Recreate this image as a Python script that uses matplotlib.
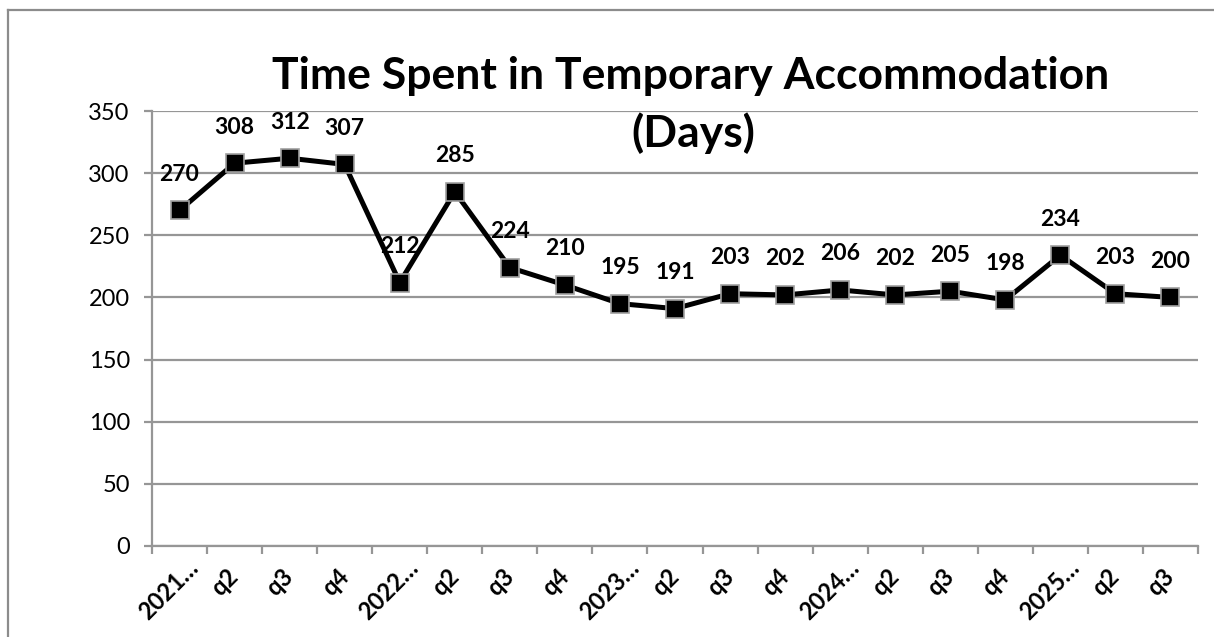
import matplotlib
matplotlib.use("Agg")
import matplotlib.pyplot as plt
from matplotlib.lines import Line2D
import matplotlib.transforms as mtransforms

categories = ["2021…", "q2", "q3", "q4", "2022…", "q2", "q3", "q4", "2023…", "q2",
              "q3", "q4", "2024…", "q2", "q3", "q4", "2025…", "q2", "q3"]
values = [270, 308, 312, 307, 212, 285, 224, 210, 195, 191,
          203, 202, 206, 202, 205, 198, 234, 203, 200]
y_ticks = [0, 50, 100, 150, 200, 250, 300, 350]
title_line1 = "Time Spent in Temporary Accommodation"
title_line2 = "(Days)"

plt.rcParams['font.family'] = ['Lato', 'DejaVu Sans']

W, H = 1214, 637
fig = plt.figure(figsize=(W / 100, H / 100), dpi=100)
ax = fig.add_axes([152 / W, 1 - 546 / H, (1198 - 152) / W, (546 - 111) / H])

grid_c = "#969696"
x = list(range(len(categories)))
ax.plot(x, values, color="black", lw=3.6, marker="s", markersize=13,
        markerfacecolor="black", markeredgecolor="#a0a0a0", markeredgewidth=1.2,
        zorder=3, clip_on=False)

for xi, v in zip(x, values):
    ax.annotate(str(v), (xi, v), xytext=(0, 26), textcoords="offset points",
                ha="center", va="center", fontsize=16.5, fontweight="bold", zorder=4)

ax.set_xlim(-0.5, len(categories) - 0.5)
ax.set_ylim(0, 350)
ax.set_yticks(y_ticks)
ax.set_yticklabels([str(t) for t in y_ticks], fontsize=17)
ax.yaxis.grid(True, color=grid_c, lw=1.6)
ax.set_axisbelow(True)

# category labels (rotated), placed at category centres
ax.set_xticks(x)
ax.set_xticklabels([])
ax.tick_params(axis="x", which="major", length=0)
base = ax.get_xaxis_transform()
for xi, cat in zip(x, categories):
    if cat.endswith("…"):
        dx, dy = 15, -18
    else:
        dx, dy = 0, -27
    off = mtransforms.ScaledTranslation(dx / 100, dy / 100, fig.dpi_scale_trans)
    ax.text(xi, 0, cat, transform=base + off, rotation=45, ha="right", va="center",
            rotation_mode="anchor", fontsize=17, fontweight="bold", clip_on=False)

ax.set_xticks([i - 0.5 for i in range(len(categories) + 1)], minor=True)
ax.tick_params(axis="x", which="minor", length=6, width=1.6, color=grid_c, direction="out")
ax.tick_params(axis="y", length=6, width=1.6, color=grid_c, direction="out", pad=10)

for s in ["top", "right"]:
    ax.spines[s].set_visible(False)
ax.spines["left"].set_color(grid_c)
ax.spines["left"].set_linewidth(1.6)
ax.spines["bottom"].set_color(grid_c)
ax.spines["bottom"].set_linewidth(1.6)

fig.text(691 / W, 1 - 76 / H, title_line1, ha="center", va="center",
         fontsize=32, fontweight="bold")
fig.text(693 / W, 1 - 133 / H, title_line2, ha="center", va="center",
         fontsize=32, fontweight="bold")

# chart-area border (top and left visible)
fig.add_artist(Line2D([8 / W, 8 / W], [0, 1 - 10 / H], transform=fig.transFigure,
                      color="#8c8c8c", lw=1.6))
fig.add_artist(Line2D([8 / W, 1], [1 - 10 / H, 1 - 10 / H], transform=fig.transFigure,
                      color="#8c8c8c", lw=1.6))

fig.savefig("out.png", dpi=100)
